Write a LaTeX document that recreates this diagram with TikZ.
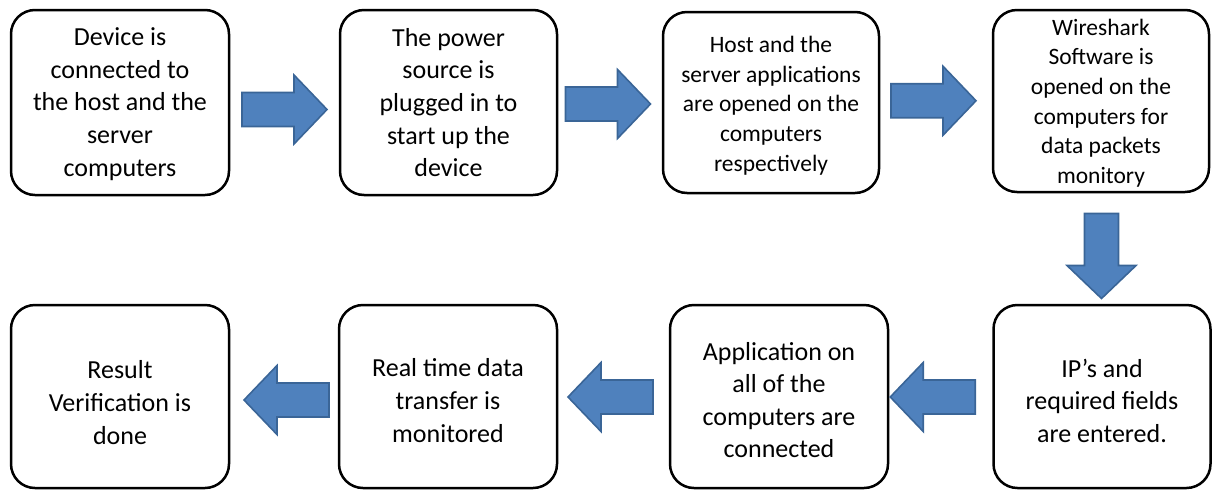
\documentclass[tikz,border=0pt]{standalone}
\usepackage{fontspec}
\setmainfont{Carlito}
\usetikzlibrary{calc}
\definecolor{arrowfill}{HTML}{4F81BD}
\definecolor{arrowline}{HTML}{3A6597}

% invisible strut that raises the top of the first text line,
% which lowers the whole text block inside its box
\newcommand\leadstrut[1]{\rule{0pt}{#1}}

\tikzset{
  stepbox/.style={draw=black, line width=2.5pt, rounded corners=24pt, fill=white,
    align=center, inner sep=0pt, text=black,
    font=\fontsize{26}{32.6}\selectfont,
    minimum width=217pt, minimum height=183pt},
  smalltext/.style={font=\fontsize{23.5}{29.6}\selectfont},
  blockarrow/.pic={
    \draw[fill=arrowfill, draw=arrowline, line width=1.6pt, line join=miter]
      (-42.5,-17) -- (9.5,-17) -- (9.5,-34.5) -- (42.5,0) -- (9.5,34.5)
      -- (9.5,17) -- (-42.5,17) -- cycle;
  }
}

\begin{document}
\begin{tikzpicture}[x=1pt,y=-1pt]
  \useasboundingbox (0,0) rectangle (1218,491);

  % top row, left to right
  \node[stepbox, minimum width=218pt, minimum height=185pt] (b1) at (120,102.5)
    {\leadstrut{21pt}Device is\\connected to\\the host and the\\server\\computers};
  \node[stepbox, minimum height=185pt] (b2) at (448.5,102.5)
    {The power\\source is\\plugged in to\\start up the\\device};
  \node[stepbox, smalltext, minimum width=216pt, minimum height=181pt] (b3) at (771,102.5)
    {\leadstrut{22.5pt}Host and the\\server applications\\are opened on the\\computers\\respectively};
  \node[stepbox, smalltext, minimum width=216pt, minimum height=182pt] (b4) at (1101,101)
    {\leadstrut{20.5pt}Wireshark\\Software is\\opened on the\\computers for\\data packets\\monitory};

  % bottom row, right to left
  \node[stepbox] (b8) at (1102,396.5)
    {\leadstrut{27pt}IP’s and\\required fields\\are entered.};
  \node[stepbox, minimum width=218pt] (b7) at (779,396.5)
    {\leadstrut{25pt}Application on\\all of the\\computers are\\connected};
  \node[stepbox, minimum width=218pt] (b6) at (448,396.5)
    {\leadstrut{26pt}Real time data\\transfer is\\monitored};
  \node[stepbox, minimum width=218pt] (b5) at (120,396.5)
    {\leadstrut{30pt}Result\\Verification is\\done};

  % block arrows between the steps
  \pic at ($(b1.east)!0.5!(b2.west)+(0,7)$) {blockarrow};
  \pic at ($(b2.east)!0.5!(b3.west)+(-2,1.5)$) {blockarrow};
  \pic at ($(b3.east)!0.5!(b4.west)+(-2.5,-1)$) {blockarrow};
  \pic[rotate=-90] at ($(b4.south)!0.5!(b8.north)+(0,7.5)$) {blockarrow};
  \pic[rotate=180] at ($(b7.east)!0.5!(b8.west)+(-8,0.5)$) {blockarrow};
  \pic[rotate=180] at ($(b6.east)!0.5!(b7.west)+(-3,0.5)$) {blockarrow};
  \pic[rotate=180] at ($(b5.east)!0.5!(b6.west)+(2.5,3.5)$) {blockarrow};
\end{tikzpicture}
\end{document}
